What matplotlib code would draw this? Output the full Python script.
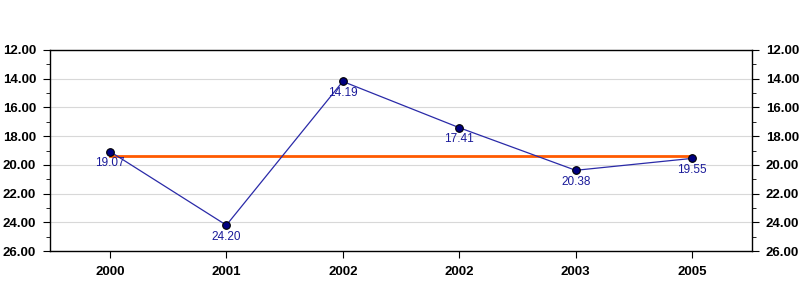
import matplotlib
matplotlib.use("Agg")
import matplotlib.pyplot as plt
from matplotlib.ticker import MultipleLocator, FormatStrFormatter

plt.rcParams["font.family"] = ["Liberation Sans", "DejaVu Sans"]

categories = ["2000", "2001", "2002", "2002", "2003", "2005"]
values = [19.07, 24.20, 14.19, 17.41, 20.38, 19.55]
reference_level = 19.35

x = list(range(len(categories)))

fig = plt.figure(figsize=(8, 3), dpi=100)
ax = fig.add_axes([50 / 800, 1 - 251 / 300, 702 / 800, 201 / 300])

ax.set_xlim(-0.515, 5.515)
ax.set_ylim(26, 12)

ax.yaxis.set_major_locator(MultipleLocator(2))
ax.yaxis.set_minor_locator(MultipleLocator(1))
ax.yaxis.set_major_formatter(FormatStrFormatter("%.2f"))
ax.grid(True, axis="y", which="major", color="#d8d8d8", linewidth=0.8)
ax.set_axisbelow(True)

ax.plot([x[0], x[-1]], [reference_level, reference_level], color="#ff5a00", linewidth=2, zorder=2)
ax.plot(x, values, color="#2a2aa8", linewidth=0.9, zorder=3,
        marker="o", markersize=5.5, markerfacecolor="#000080", markeredgecolor="black",
        markeredgewidth=0.8)

for xi, v in zip(x, values):
    ax.annotate(f"{v:.2f}", (xi, v), xytext=(0, -4), textcoords="offset points",
                ha="center", va="top", fontsize=8.5, color="#1a1a99")

ax.set_xticks(x)
ax.set_xticklabels(categories)

ax.tick_params(axis="both", which="both", direction="out", color="black",
               labelsize=9.5)
ax.tick_params(axis="y", which="both", left=True, right=True, labelleft=True, labelright=True)
ax.tick_params(axis="y", which="major", length=5, pad=5)
ax.tick_params(axis="y", which="minor", length=3)
ax.tick_params(axis="x", length=5, pad=6)
for lbl in ax.get_xticklabels() + ax.get_yticklabels():
    lbl.set_fontweight("bold")

for spine in ax.spines.values():
    spine.set_color("black")
    spine.set_linewidth(1)

fig.savefig("out.png", dpi=100)
